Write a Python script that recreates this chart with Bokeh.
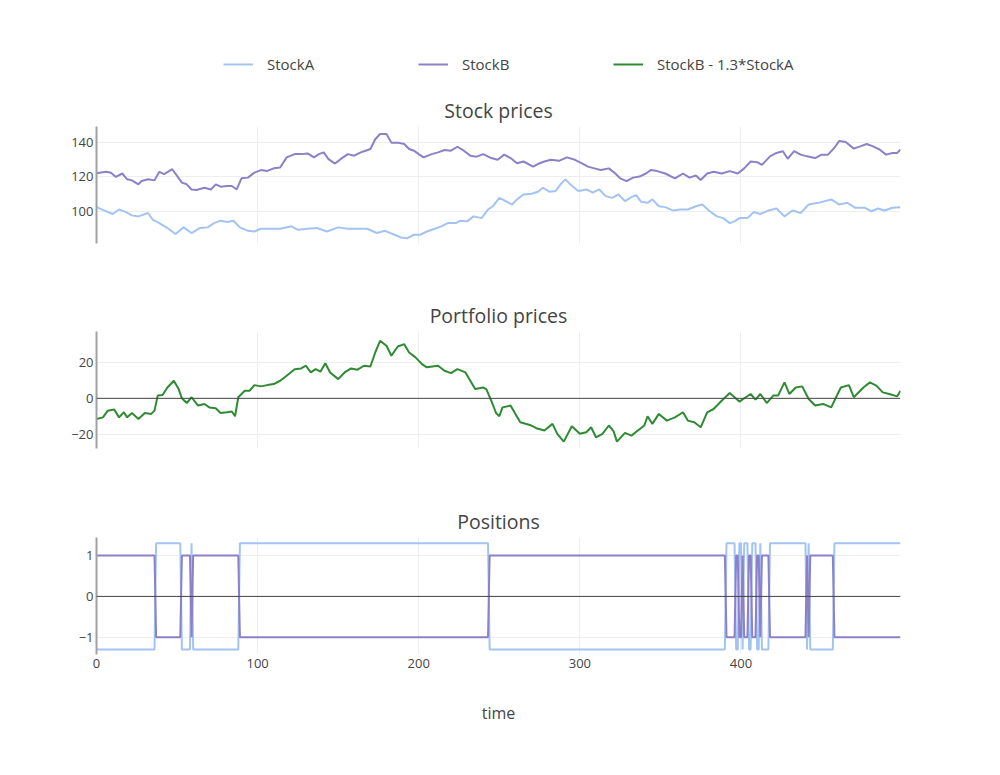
from bokeh.embed import file_html
from bokeh.layouts import column
from bokeh.models import FixedTicker, Legend, LegendItem, Range1d, Span
from bokeh.plotting import figure
from bokeh.resources import INLINE

# values
time_a = [0, 5, 10, 14, 18, 22, 26, 32, 35, 39, 44, 49, 54, 59, 64, 69, 73, 77, 81, 85,
          89, 94, 98, 102, 108, 114, 121, 125, 131, 137, 143, 150, 156, 162, 168, 174, 179, 185, 189, 193,
          197, 201, 205, 210, 214, 218, 223, 226, 230, 234, 239, 243, 246, 250, 254, 258, 261, 265, 270, 274,
          277, 281, 285, 288, 291, 294, 299, 304, 308, 312, 316, 320, 324, 328, 332, 335, 338, 342, 345, 349,
          353, 358, 362, 367, 372, 376, 380, 385, 389, 393, 396, 399, 404, 408, 412, 417, 422, 427, 432, 437,
          442, 448, 456, 461, 466, 471, 477, 481, 485, 489, 494, 499]
stock_a = [102.4, 100.4, 98.4, 101, 99.6, 97.6, 97, 99, 95, 93.1, 90.2, 86.7, 90.6, 87.3, 90.2, 90.6, 93.1, 94.5, 93.7, 94.5,
           90.6, 88.6, 88.2, 89.8, 89.8, 89.8, 91.2, 89.2, 89.8, 90.2, 88.2, 90.6, 89.8, 89.8, 89.8, 87.3, 88.6, 86.3, 84.7, 84.3,
           86.3, 86.3, 88.2, 89.8, 91.2, 93.1, 93.1, 94.5, 94.1, 97, 96, 101, 102.9, 107.8, 105.9, 103.9, 106.9, 109.8, 110.2, 111.4,
           113.7, 111.4, 111.8, 115.7, 118.6, 115.7, 111.8, 112.7, 110.8, 112.7, 108.8, 107.8, 109.8, 105.9, 108.2, 109.4, 105.5, 104.9, 106.9, 102.9,
           102.4, 100.4, 101, 101, 102.9, 103.9, 100.4, 97, 96, 93.1, 94.1, 96, 96, 99.6, 98.4, 100.4, 101.6, 97, 100.4, 99,
           103.9, 104.9, 106.9, 103.9, 104.9, 102, 102, 100, 101.6, 100.4, 102, 102.4]

time_b = [0, 6, 9, 12, 16, 19, 22, 26, 28, 32, 36, 39, 42, 47, 50, 53, 56, 59, 62, 67,
          71, 74, 77, 81, 84, 87, 90, 94, 98, 102, 106, 110, 114, 118, 123, 127, 131, 135, 138, 141,
          144, 148, 153, 156, 160, 164, 167, 170, 173, 176, 180, 183, 187, 191, 194, 197, 200, 203, 208, 212,
          216, 220, 224, 228, 232, 236, 240, 245, 249, 253, 257, 261, 265, 271, 275, 278, 282, 287, 292, 297,
          301, 305, 309, 313, 318, 322, 325, 329, 333, 337, 341, 344, 348, 353, 359, 364, 368, 372, 375, 379,
          383, 388, 393, 398, 402, 406, 410, 413, 418, 422, 426, 429, 433, 437, 441, 446, 450, 454, 458, 461,
          465, 470, 474, 478, 482, 486, 490, 494, 497, 499]
stock_b = [122.2, 123, 122.5, 120, 122, 118.6, 118, 115.7, 117.6, 118.6, 118, 123, 121.6, 124.5, 120.6, 116.7, 115.7, 112.7, 112.4, 113.7,
           112.7, 115.7, 114.3, 114.7, 114.7, 112.7, 119.2, 119.6, 122.5, 124, 123.5, 125, 125.5, 131.4, 133.3, 133.3, 133.7, 131.4, 133.3, 134.3,
           130.4, 127.8, 131.4, 133.3, 132.4, 134.3, 135.3, 136.3, 142, 145, 145, 140, 140, 139.2, 136.3, 135.3, 133.3, 131.4, 133.3, 134.3,
           135.7, 135.3, 137.6, 135.3, 132.4, 131.8, 133.3, 131, 130, 133, 131, 128, 129, 126, 128, 129, 130, 129.4, 131.4, 130,
           128, 126, 125, 124, 125, 122, 119.2, 117.6, 119.6, 120.2, 122, 124, 123.4, 122, 119.2, 122, 119.6, 120.8, 118.2, 122,
           123, 122, 123.4, 122, 125, 129, 128.6, 127, 132, 134, 135, 130.6, 135, 133, 132, 131, 133, 133, 137, 141,
           140.4, 136.5, 137.8, 139.2, 137.8, 136, 133, 134, 134, 136]

time_p = [0, 4, 7, 11, 14, 17, 19, 22, 26, 30, 34, 36, 38, 41, 44, 48, 51, 53, 56, 59,
          63, 67, 70, 74, 77, 81, 84, 86, 88, 92, 95, 98, 102, 106, 110, 114, 118, 123, 127, 130,
          133, 136, 139, 142, 145, 150, 154, 158, 162, 166, 170, 173, 176, 180, 183, 187, 191, 194, 198, 202,
          205, 212, 216, 220, 224, 229, 232, 235, 240, 242, 245, 248, 250, 252, 257, 260, 263, 269, 273, 278,
          283, 286, 290, 295, 300, 304, 307, 310, 314, 318, 321, 323, 328, 332, 336, 340, 342, 345, 349, 354,
          359, 364, 367, 371, 375, 379, 383, 388, 393, 396, 399, 403, 406, 409, 412, 416, 420, 423, 427, 430,
          434, 438, 442, 446, 451, 456, 459, 462, 467, 470, 476, 480, 484, 488, 492, 497, 499]
portfolio = [-11.4, -10.5, -6.8, -6.2, -10.5, -7.7, -10.5, -8.1, -11.4, -8.1, -8.6, -6.8, 1.5, 1.8, 6, 9.7, 5.1, 0, -2.6, 0.6,
             -4, -3.1, -5, -5.5, -8.1, -7.7, -7.3, -9.9, 0.6, 4.2, 4.2, 7.3, 6.6, 7.3, 7.9, 9.7, 12.5, 16.1, 16.5, 18,
             14.3, 16.1, 14.7, 19.4, 14.3, 10.6, 14.3, 16.5, 15.8, 18, 17.6, 25.3, 31.7, 29, 23.5, 28.6, 29.9, 25.3, 22.6, 18.9,
             17.1, 18, 15.2, 13.9, 16.1, 14.3, 9.7, 5.1, 6, 5, -1.3, -8.1, -9.9, -5, -4, -8.6, -13.2, -14.7, -16.5, -17.8,
             -14.1, -19.6, -23.9, -15.4, -19.6, -18.7, -16, -21.5, -19.6, -15, -18.3, -23.9, -19.1, -20.6, -17.8, -15, -9.9, -14.1, -8.6, -12.3,
             -10.5, -7.7, -12.3, -13.2, -16, -7.7, -5.9, -1.3, 2.9, 0.6, -1.8, 0.6, 2.4, -0.7, 2.4, -2.6, 1.5, 1.5, 8.8, 2.4,
             6, 6.6, -0.4, -4, -3.1, -5, 0.6, 6, 7.3, 0.6, 6, 8.8, 7, 3.3, 2.4, 1.1, 4.2]

# periods where the portfolio is held short (StockB sold, StockA bought)
short_start = [37, 59, 89, 391, 399, 402, 407, 412, 418, 442, 458]
short_end = [52, 59, 243, 396, 400, 404, 409, 412, 440, 442, 499]
hedge_ratio = 1.3

steps = list(range(500))
pos_b = [-1 if any(s <= t <= e for s, e in zip(short_start, short_end)) else 1 for t in steps]
pos_a = [-hedge_ratio * v for v in pos_b]

COL_A = "#a3c4f3"
COL_B = "#8c80c9"
COL_P = "#2e8b34"
FONT = "Open Sans"
LEFT = 96


def panel(title, y0, y1, ticks, labels, top, bottom, with_x=False):
    p = figure(frame_width=804, frame_height=117,
               x_range=Range1d(0, 499), y_range=Range1d(y0, y1),
               x_axis_location="below" if with_x else None,
               title=title, tools="", toolbar_location=None, output_backend="svg",
               min_border_left=LEFT, min_border_right=40,
               min_border_top=top, min_border_bottom=bottom)
    p.outline_line_color = None
    p.title.align = "center"
    p.title.text_font = FONT
    p.title.text_font_size = "19.5px"
    p.title.text_font_style = "normal"
    p.title.text_color = "#444444"
    p.title.standoff = 5

    p.yaxis.ticker = FixedTicker(ticks=ticks)
    p.yaxis.major_label_overrides = labels
    p.yaxis.axis_line_color = "#a0a0a0"
    p.yaxis.axis_line_width = 2
    p.yaxis.major_tick_line_color = None
    p.yaxis.major_tick_out = 0
    p.yaxis.major_tick_in = 0
    p.yaxis.minor_tick_line_color = None
    p.yaxis.major_label_standoff = 3
    p.yaxis.major_label_text_font = FONT
    p.yaxis.major_label_text_font_size = "13px"
    p.yaxis.major_label_text_color = "#444444"

    p.xgrid.ticker = FixedTicker(ticks=[100, 200, 300, 400])
    p.xgrid.grid_line_color = "#eeeeee"
    p.ygrid.grid_line_color = "#eeeeee"
    return p


# legend strip above the first panel; its lines fall outside the strip's range
p0 = figure(frame_width=804, frame_height=88, x_range=Range1d(0, 499), y_range=Range1d(0, 1),
            x_axis_location=None, y_axis_location=None, tools="", toolbar_location=None,
            output_backend="svg", min_border_left=LEFT, min_border_right=40,
            min_border_top=0, min_border_bottom=0)
p0.outline_line_color = None
p0.grid.visible = False
ra = p0.line(time_a, stock_a, line_color=COL_A, line_width=2)
rb = p0.line(time_b, stock_b, line_color=COL_B, line_width=2)
rp = p0.line(time_p, [v - 100 for v in portfolio], line_color=COL_P, line_width=2)
legend = Legend(items=[LegendItem(label="StockA", renderers=[ra]),
                       LegendItem(label="StockB", renderers=[rb]),
                       LegendItem(label="StockB - 1.3*StockA", renderers=[rp])],
                location=(127, 14), orientation="horizontal",
                glyph_width=30, glyph_height=20, label_standoff=14, label_width=151,
                spacing=0, padding=0, margin=0,
                border_line_color=None, background_fill_alpha=0,
                label_text_font=FONT, label_text_font_size="15px", label_text_color="#444444")
p0.add_layout(legend, "center")

p1 = panel("Stock prices", 81.2, 149.4, [100, 120, 140], {}, 38, 8)
p1.line(time_a, stock_a, line_color=COL_A, line_width=2)
p1.line(time_b, stock_b, line_color=COL_B, line_width=2)

p2 = panel("Portfolio prices", -27.7, 36.9, [-20, 0, 20], {-20: "\u221220"}, 80, 8)
p2.add_layout(Span(location=0, dimension="width", line_color="#444444", line_width=1))
p2.line(time_p, portfolio, line_color=COL_P, line_width=2)

p3 = panel("Positions", -1.42, 1.44, [-1, 0, 1], {-1: "\u22121"}, 81, 70, with_x=True)
p3.add_layout(Span(location=0, dimension="width", line_color="#444444", line_width=1))
p3.line(steps, pos_a, line_color=COL_A, line_width=2)
p3.line(steps, pos_b, line_color=COL_B, line_width=2)
p3.xaxis.ticker = FixedTicker(ticks=[0, 100, 200, 300, 400])
p3.xaxis.axis_line_color = None
p3.xaxis.major_tick_line_color = None
p3.xaxis.major_tick_out = 0
p3.xaxis.major_tick_in = 0
p3.xaxis.minor_tick_line_color = None
p3.xaxis.major_label_standoff = 4
p3.xaxis.major_label_text_font = FONT
p3.xaxis.major_label_text_font_size = "13px"
p3.xaxis.major_label_text_color = "#444444"
p3.xaxis.axis_label = "time"
p3.xaxis.axis_label_standoff = 31
p3.xaxis.axis_label_text_font = FONT
p3.xaxis.axis_label_text_font_size = "16px"
p3.xaxis.axis_label_text_font_style = "normal"
p3.xaxis.axis_label_text_color = "#444444"

layout = column(p0, p1, p2, p3)
open("out.html", "w").write(file_html(layout, INLINE))
